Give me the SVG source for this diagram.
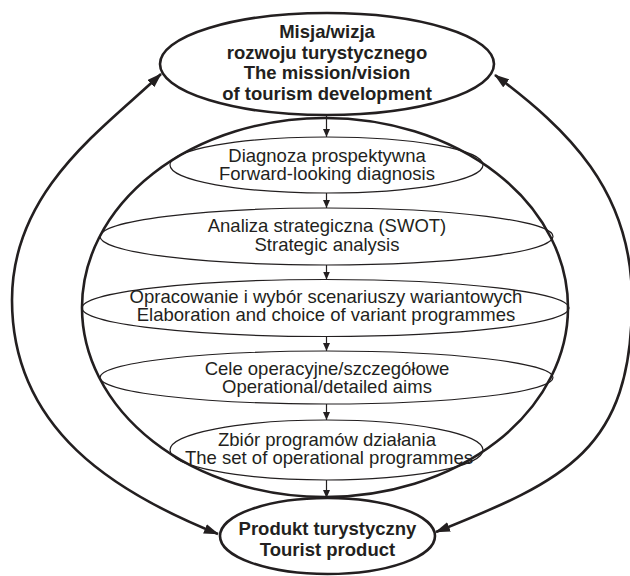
<svg xmlns="http://www.w3.org/2000/svg" width="630" height="576" viewBox="0 0 630 576">
  <defs>
    <style>
      .thick{fill:none;stroke:#231f20;stroke-width:2.6}
      .thin{fill:none;stroke:#231f20;stroke-width:1.2}
      .t{font-family:"Liberation Sans",Arial,Helvetica,sans-serif;font-size:18.5px;fill:#231f20;text-anchor:middle}
      .b{font-weight:bold}
    </style>
    <marker id="head" markerUnits="userSpaceOnUse" viewBox="0 0 15 10" refX="14" refY="5" markerWidth="15" markerHeight="10" orient="auto-start-reverse">
      <path d="M0,0 L15,5 L0,10 z" fill="#231f20"/>
    </marker>
    <marker id="tip" markerUnits="userSpaceOnUse" viewBox="0 0 8 8" refX="8" refY="4" markerWidth="8" markerHeight="8" orient="auto">
      <path d="M0,0.5 L8,4 L0,7.5 z" fill="#231f20"/>
    </marker>
  </defs>
  <rect width="630" height="576" fill="#fff"/>

  <!-- planning process container -->
  <g id="process">
    <ellipse class="thick" cx="325" cy="307.5" rx="243" ry="189.5"/>
  </g>

  <g id="mission">
    <ellipse class="thick" cx="327" cy="64" rx="167" ry="51"/>
    <text class="t b" x="327" y="38">Misja/wizja</text>
    <text class="t b" x="327" y="58.5">rozwoju turystycznego</text>
    <text class="t b" x="327" y="79">The mission/vision</text>
    <text class="t b" x="327" y="99.5">of tourism development</text>
  </g>

  <g id="diagnosis">
    <ellipse class="thin" cx="326.5" cy="165" rx="156.5" ry="28"/>
    <text class="t" x="327" y="161.5">Diagnoza prospektywna</text>
    <text class="t" x="327" y="180">Forward-looking diagnosis</text>
  </g>

  <g id="swot">
    <ellipse class="thin" cx="326.5" cy="236.5" rx="226.5" ry="28.5"/>
    <text class="t" x="327" y="232">Analiza strategiczna (SWOT)</text>
    <text class="t" x="327" y="251">Strategic analysis</text>
  </g>

  <g id="scenarios">
    <ellipse class="thin" cx="325.5" cy="308" rx="243.5" ry="28.5"/>
    <text class="t" x="326" y="303">Opracowanie i wybór scenariuszy wariantowych</text>
    <text class="t" x="326" y="321">Elaboration and choice of variant programmes</text>
  </g>

  <g id="aims">
    <ellipse class="thin" cx="326.5" cy="377.5" rx="226.5" ry="26.5"/>
    <text class="t" x="327" y="375">Cele operacyjne/szczegółowe</text>
    <text class="t" x="327" y="393">Operational/detailed aims</text>
  </g>

  <g id="programmes">
    <ellipse class="thin" cx="326.5" cy="450" rx="156.5" ry="30"/>
    <text class="t" x="327" y="446">Zbiór programów działania</text>
    <text class="t" x="329" y="464">The set of operational programmes</text>
  </g>

  <g id="product">
    <ellipse class="thick" cx="327.5" cy="536" rx="107.5" ry="38"/>
    <text class="t b" x="327.5" y="535">Produkt turystyczny</text>
    <text class="t b" x="327.5" y="556">Tourist product</text>
  </g>

  <g id="connectors">
    <!-- feedback loops between mission and product -->
    <path class="thick" d="M161,74 C103,129 12,190 12,300 C12,430 116,493 218,534" marker-start="url(#head)" marker-end="url(#head)"/>
    <path class="thick" d="M495,75 C567,129 632,190 632,300 C632,450 566,480 436,532" marker-start="url(#head)" marker-end="url(#head)"/>
    <!-- step-to-step flow -->
    <line class="thin" x1="326.5" y1="115" x2="326.5" y2="137" marker-end="url(#tip)"/>
    <line class="thin" x1="326.5" y1="193" x2="326.5" y2="208" marker-end="url(#tip)"/>
    <line class="thin" x1="326.5" y1="265" x2="326.5" y2="279.5" marker-end="url(#tip)"/>
    <line class="thin" x1="326.5" y1="336.5" x2="326.5" y2="351" marker-end="url(#tip)"/>
    <line class="thin" x1="326.5" y1="404" x2="326.5" y2="420" marker-end="url(#tip)"/>
    <line class="thin" x1="326.5" y1="480" x2="326.5" y2="498" marker-end="url(#tip)"/>
  </g>
</svg>
